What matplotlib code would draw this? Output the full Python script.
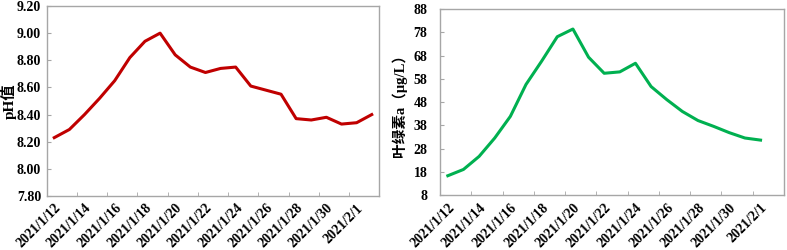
import matplotlib
matplotlib.use("Agg")
import matplotlib.pyplot as plt
import numpy as np

# dates (one category per day)
dates = ["2021/1/12", "2021/1/13", "2021/1/14", "2021/1/15", "2021/1/16", "2021/1/17",
         "2021/1/18", "2021/1/19", "2021/1/20", "2021/1/21", "2021/1/22", "2021/1/23",
         "2021/1/24", "2021/1/25", "2021/1/26", "2021/1/27", "2021/1/28", "2021/1/29",
         "2021/1/30", "2021/1/31", "2021/2/1", "2021/2/2"]

# pH values
ph_values = [8.23, 8.29, 8.40, 8.52, 8.65, 8.82, 8.94, 9.00, 8.84, 8.75, 8.71,
             8.74, 8.75, 8.61, 8.58, 8.55, 8.37, 8.36, 8.38, 8.33, 8.34, 8.40]

# chlorophyll a (ug/L), no value for the last day
chla_values = [16.4, 19.1, 24.7, 32.6, 41.9, 55.6, 65.6, 76.1, 79.4, 67.3, 60.4,
               61.0, 64.7, 54.7, 49.1, 44.0, 40.1, 37.6, 34.9, 32.6, 31.7]

ph_ticks = [7.80, 8.00, 8.20, 8.40, 8.60, 8.80, 9.00, 9.20]
chla_ticks = [8, 18, 28, 38, 48, 58, 68, 78, 88]

fonts = ['Liberation Serif', 'Noto Sans CJK SC', 'DejaVu Sans']
plt.rcParams['font.family'] = fonts
plt.rcParams['font.weight'] = 'bold'

fig = plt.figure(figsize=(7.87, 2.5), dpi=100)
ax1 = fig.add_axes([46.7 / 787, 1 - 196 / 250, (379.3 - 46.7) / 787, (196 - 6) / 250])
ax2 = fig.add_axes([440 / 787, 1 - 195.3 / 250, (784 - 440) / 787, (195.3 - 9) / 250])

n = len(dates)
x = np.arange(n)


def style_axis(ax, ticks, fmt, ypad):
    ax.set_xlim(-0.5, n - 0.5)
    ax.set_ylim(ticks[0], ticks[-1])
    ax.set_yticks(ticks)
    ax.set_yticklabels([fmt.format(t) for t in ticks], fontsize=10, fontweight='bold')
    ax.set_xticks(x[::2])
    ax.set_xticklabels(dates[::2], rotation=45, ha='right', rotation_mode='anchor',
                       fontsize=10, fontweight='bold')
    ax.set_xticks(np.arange(1.5, n - 1, 2), minor=True)
    ax.tick_params(axis='x', which='major', length=0, pad=4)
    ax.tick_params(axis='x', which='minor', length=3, direction='in', color='#a6a6a6')
    ax.tick_params(axis='y', length=3, direction='in', color='#a6a6a6', pad=ypad)
    for s in ax.spines.values():
        s.set_color('#a6a6a6')
        s.set_linewidth(1.0)


ax1.plot(x, ph_values, color='#C00000', linewidth=2.2)
style_axis(ax1, ph_ticks, "{:.2f}", 4)
ax1.set_ylabel("pH值", fontsize=11, fontweight='bold')
ax1.yaxis.set_label_coords(-0.0915, 0.5)

ax2.plot(x[:len(chla_values)], chla_values, color='#00B050', linewidth=2.2)
style_axis(ax2, chla_ticks, "{:d}", 9)
ax2.set_ylabel("叶绿素a（μg/L）", fontsize=10.5, fontweight='bold')
ax2.yaxis.set_label_coords(-0.097, 0.5)

fig.savefig("out.png", dpi=100)
